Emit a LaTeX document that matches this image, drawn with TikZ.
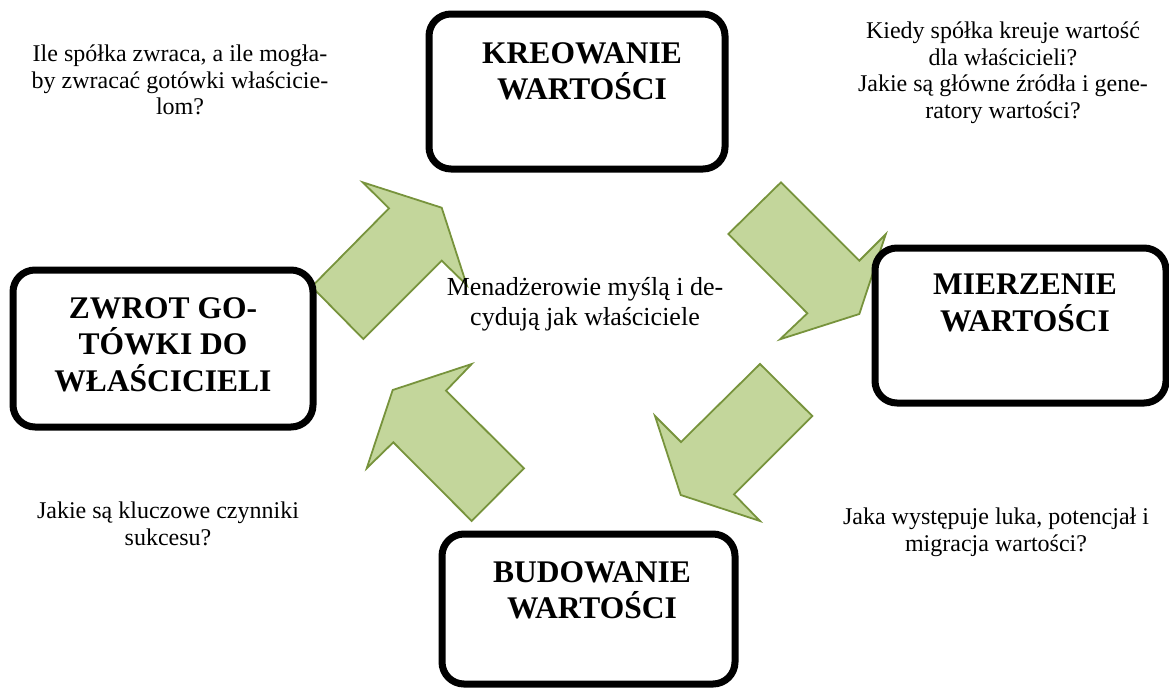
\documentclass[tikz,border=0pt]{standalone}
\usepackage{fontspec}
\setmainfont{Liberation Serif}
\newfontfamily\tnr{Liberation Serif}
\definecolor{arrowfill}{HTML}{C3D69B}
\definecolor{arrowline}{HTML}{77933C}
\begin{document}
\begin{tikzpicture}[x=1pt,y=-1pt,
  stagebox/.style={draw=black, line width=7pt, rounded corners=22pt, fill=white, inner sep=0pt},
  title/.style={font=\tnr\fontsize{31.5}{36.5}\selectfont\bfseries, align=center, anchor=north, inner sep=0pt},
  note/.style={font=\tnr\fontsize{24}{26.5}\selectfont, align=center, anchor=north, inner sep=0pt},
  midnote/.style={font=\tnr\fontsize{26}{30}\selectfont, align=center, anchor=north, inner sep=0pt},
  garrow/.style={fill=arrowfill, draw=arrowline, line width=1.8pt, line join=miter}]
\useasboundingbox (0,0) rectangle (1169,688);

% block arrows
\draw[garrow] (311.7,286.7) -- (363.3,339) -- (441.7,260.7) -- (466.7,285) -- (441.7,207.7) -- (362.7,182.3) -- (389,208.3) -- cycle;
\draw[garrow] (781,182.3) -- (728.3,234) -- (807.3,313.3) -- (780,339.3) -- (859.3,314) -- (885.7,234.3) -- (859.3,260.7) -- cycle;
\draw[garrow] (760,364) -- (812.3,416) -- (734,494.3) -- (760,521) -- (680.7,495) -- (655,416) -- (681,442) -- cycle;
\draw[garrow] (524,468.3) -- (471.7,521) -- (393.3,442.3) -- (366.7,468.3) -- (392.7,390) -- (471.7,364) -- (446,390.7) -- cycle;

% boxes
\node[stagebox, minimum width=296pt, minimum height=155pt] (kre) at (577,91.5) {};
\node[stagebox, minimum width=291pt, minimum height=155pt] (mie) at (1020.5,325.5) {};
\node[stagebox, minimum width=293pt, minimum height=150pt] (bud) at (588.5,609) {};
\node[stagebox, minimum width=300pt, minimum height=157pt] (zwr) at (163,348.5) {};

% titles
\node[title] (kret) at (582,42) {KREOWANIE\\WARTOŚCI};
\node[title] (miet) at (1025,274) {MIERZENIE\\WARTOŚCI};
\node[title] (budt) at (592,561) {BUDOWANIE\\WARTOŚCI};
\node[title] (zwrt) at (163,297) {ZWROT GO-\\TÓWKI DO\\WŁAŚCICIELI};

% notes
\node[note] (ntl) at (180,45) {Ile spółka zwraca, a ile mogła-\\by zwracać gotówki właścicie-\\lom?};
\node[note] (ntr) at (1003,22) {Kiedy spółka kreuje wartość\\dla właścicieli?\\Jakie są główne źródła i gene-\\ratory wartości?};
\node[note] (nbl) at (168,502) {Jakie są kluczowe czynniki\\sukcesu?};
\node[note] (nbr) at (996,508) {Jaka występuje luka, potencjał i\\migracja wartości?};
\node[midnote] (mid) at (585,277) {Menadżerowie myślą i de-\\cydują jak właściciele};
\end{tikzpicture}
\end{document}
